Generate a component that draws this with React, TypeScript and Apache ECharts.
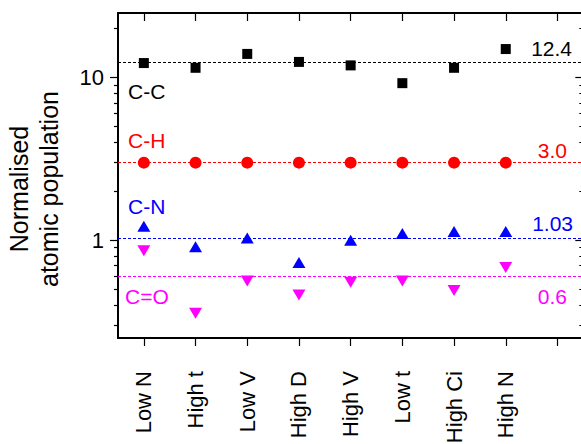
import React, { useEffect, useRef } from "react";
import * as echarts from "echarts";

const categories = ["Low N", "High t", "Low V", "High D", "High V", "Low t", "High Ci", "High N", ""];
const groupNames = ["C-C", "C-H", "C-N", "C=O"];
const ccValues = [12.3, 11.5, 14.0, 12.5, 11.9, 9.25, 11.5, 15.0];
const chValues = [3.0, 3.0, 3.0, 3.0, 3.0, 3.0, 3.0, 3.0];
const cnValues = [1.22, 0.91, 1.03, 0.73, 1.0, 1.1, 1.13, 1.13];
const coValues = [0.86, 0.355, 0.56, 0.46, 0.55, 0.56, 0.49, 0.68];
const refValues = [12.4, 3.0, 1.03, 0.6];
const refLabels = ["12.4", "3.0", "1.03", "0.6"];
const majorTicks = [1, 10];
const minorTicks = [0.3, 0.4, 0.5, 0.6, 0.7, 0.8, 0.9, 2, 3, 4, 5, 6, 7, 8, 9, 20];
const yTitle = "Normalised\natomic population";

const FONT = "'Liberation Sans', Arial, sans-serif";
const colors = ["#000000", "#ff0000", "#0000ff", "#ff00ff"];

export default function App() {
  const ref = useRef<HTMLDivElement>(null);
  useEffect(() => {
    if (!ref.current) return;
    const chart = echarts.init(ref.current, undefined, { renderer: "svg" });
    const Y_MIN = 0.25;
    const Y_MAX = 25;
    const baseY = {
      type: "log",
      logBase: 10,
      min: Y_MIN,
      max: Y_MAX,
      splitLine: { show: false },
      minorTick: { show: false },
      minorSplitLine: { show: false },
    };
    const seriesData = [ccValues, chValues, cnValues, coValues];
    const symbols = ["rect", "circle", "triangle", "triangle"];
    const sizes: any[] = [10, 12, [13, 11], [13, 11]];
    const rotates = [0, 0, 0, 180];
    const leftLabelPos = [
      { x: 128, y: 91 },
      { x: 128, y: 140 },
      { x: 128, y: 206 },
      { x: 125, y: 296 },
    ];
    const rightLabelPos = [
      { x: 572, y: 48 },
      { x: 567, y: 150 },
      { x: 573, y: 223 },
      { x: 567, y: 296 },
    ];
    const option: any = {
      animation: false,
      textStyle: { fontFamily: FONT },
      grid: { left: 118, top: 13, width: 465.3, height: 325, outerBoundsMode: "none" },
      xAxis: [
        {
          type: "category",
          data: categories,
          position: "bottom",
          boundaryGap: true,
          axisLine: { show: true, lineStyle: { color: "#000", width: 2 } },
          axisTick: { show: true, alignWithLabel: true, interval: 0, length: 8, inside: false, lineStyle: { color: "#000", width: 1.2 } },
          axisLabel: { show: true, rotate: 90, interval: 0, fontSize: 22, color: "#000", margin: 33, fontFamily: FONT },
          splitLine: { show: false },
        },
        {
          type: "category",
          data: categories,
          position: "top",
          boundaryGap: true,
          axisLine: { show: true, lineStyle: { color: "#000", width: 2 } },
          axisTick: { show: true, alignWithLabel: true, interval: 0, length: 8, inside: true, lineStyle: { color: "#000", width: 1.2 } },
          axisLabel: { show: false },
          splitLine: { show: false },
        },
      ],
      yAxis: [
        {
          ...baseY,
          position: "left",
          axisLine: { show: true, lineStyle: { color: "#000", width: 2 } },
          axisTick: { show: true, customValues: majorTicks, length: 8, inside: false, lineStyle: { color: "#000", width: 1.2 } },
          axisLabel: {
            show: true,
            customValues: majorTicks,
            fontSize: 22,
            color: "#000",
            margin: 14,
            fontFamily: FONT,
            formatter: (v: number) => String(v),
          },
        },
        {
          ...baseY,
          position: "left",
          axisLine: { show: false },
          axisTick: { show: true, customValues: minorTicks, length: 4, inside: false, lineStyle: { color: "#000", width: 1.2 } },
          axisLabel: { show: false },
        },
        {
          ...baseY,
          position: "right",
          axisLine: { show: true, lineStyle: { color: "#000", width: 2 } },
          axisTick: { show: true, customValues: majorTicks, length: 8, inside: true, lineStyle: { color: "#000", width: 1.2 } },
          axisLabel: { show: false },
        },
        {
          ...baseY,
          position: "right",
          axisLine: { show: false },
          axisTick: { show: true, customValues: minorTicks, length: 4, inside: true, lineStyle: { color: "#000", width: 1.2 } },
          axisLabel: { show: false },
        },
      ],
      series: groupNames.map((name, i) => ({
        name,
        type: "scatter",
        xAxisIndex: 0,
        yAxisIndex: 0,
        symbol: symbols[i],
        symbolSize: sizes[i],
        symbolRotate: rotates[i],
        itemStyle: { color: colors[i], opacity: 1 },
        emphasis: { disabled: true },
        data: seriesData[i],
        z: 5,
        markLine: {
          silent: true,
          symbol: ["none", "none"],
          label: { show: false },
          lineStyle: { color: colors[i], type: [3, 2], width: 1, opacity: 1 },
          data: [{ yAxis: refValues[i] }],
          z: 2,
        },
      })),
      graphic: [
        ...groupNames.map((name, i) => ({
          type: "text",
          x: leftLabelPos[i].x,
          y: leftLabelPos[i].y,
          style: {
            text: name,
            fill: colors[i],
            fontSize: 21,
            fontFamily: FONT,
            align: "left",
            verticalAlign: "middle",
          },
        })),
        ...refLabels.map((t, i) => ({
          type: "text",
          x: rightLabelPos[i].x,
          y: rightLabelPos[i].y,
          style: {
            text: t,
            fill: colors[i],
            fontSize: 21,
            fontFamily: FONT,
            align: "right",
            verticalAlign: "middle",
          },
        })),
        {
          type: "text",
          x: 34,
          y: 189,
          rotation: Math.PI / 2,
          style: {
            text: yTitle,
            fill: "#000",
            fontSize: 25,
            lineHeight: 30,
            fontFamily: FONT,
            align: "center",
            verticalAlign: "middle",
          },
        },
      ],
    };
    chart.setOption(option);
    return () => chart.dispose();
  }, []);
  return (
    <div
      ref={ref}
      style={{ position: "absolute", left: 0, top: 0, width: 581, height: 444, background: "#fff" }}
    />
  );
}
